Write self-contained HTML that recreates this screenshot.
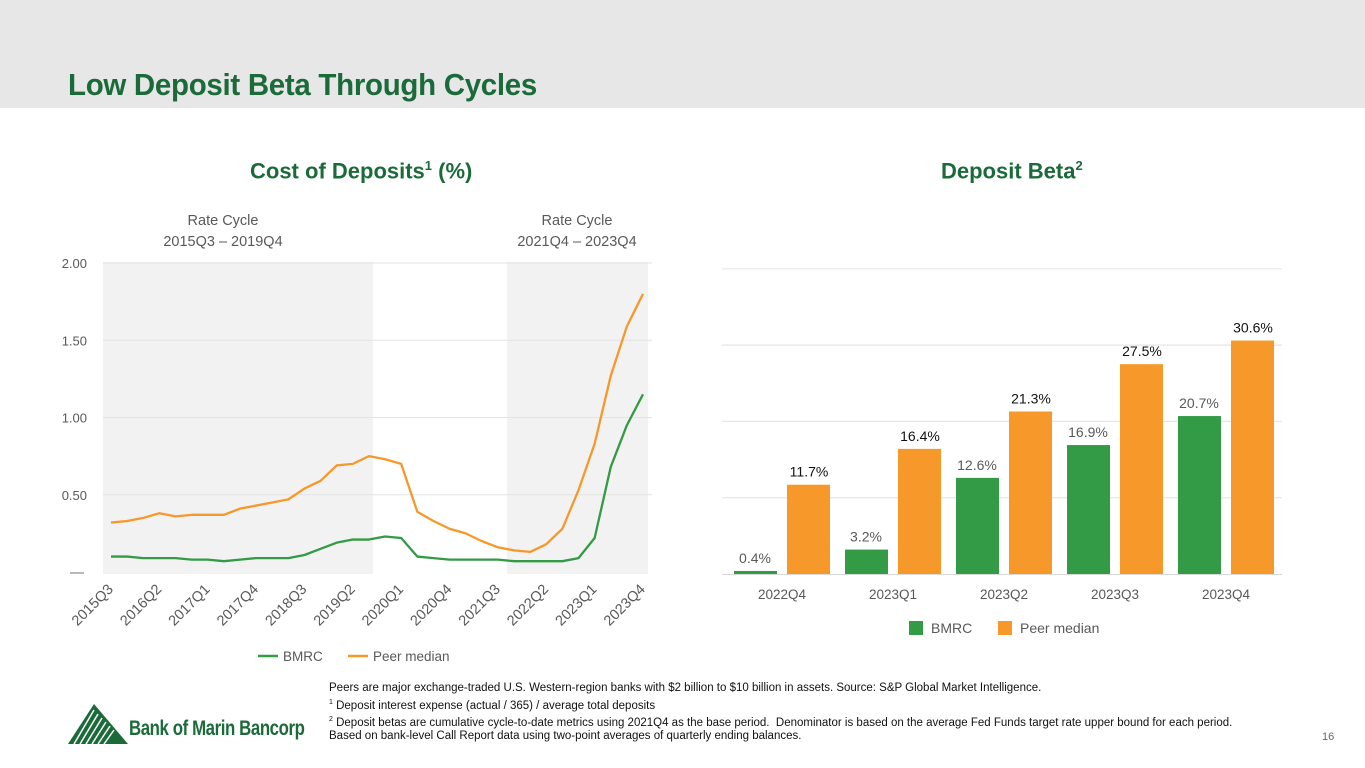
<!DOCTYPE html>
<html><head><meta charset="utf-8"><style>
body{margin:0;width:1365px;height:768px;overflow:hidden;background:#fff;font-family:"Liberation Sans",sans-serif;position:relative}
.abs{position:absolute}
</style></head><body>
<div class="abs" style="left:0;top:0;width:1365px;height:108px;background:#e7e7e7"></div>
<div class="abs" style="left:68px;top:67px;font-size:31px;font-weight:bold;color:#1b6b3a;letter-spacing:-0.3px;transform:scaleX(0.95);transform-origin:left;white-space:nowrap">Low Deposit Beta Through Cycles</div>
<div class="abs" style="left:250px;top:158px;font-size:22px;font-weight:bold;color:#1b6b3a">Cost of Deposits<sup style="font-size:13px">1</sup> (%)</div>
<div class="abs" style="left:941px;top:158px;font-size:22px;font-weight:bold;color:#1b6b3a">Deposit Beta<sup style="font-size:13px">2</sup></div>

<svg class="abs" style="left:0;top:0" width="1365" height="768">
<g id="left"></g>
<g id="right"></g>
</svg>

<div class="abs" style="left:329px;top:682px;font-size:11.5px;line-height:13.5px;color:#111;white-space:nowrap">Peers are major exchange-traded U.S. Western-region banks with $2 billion to $10 billion in assets. Source: S&amp;P Global Market Intelligence.<br><sup style="font-size:7px">1</sup> Deposit interest expense (actual / 365) / average total deposits<br><sup style="font-size:7px">2</sup> Deposit betas are cumulative cycle-to-date metrics using 2021Q4 as the base period.&nbsp; Denominator is based on the average Fed Funds target rate upper bound for each period.<br>Based on bank-level Call Report data using two-point averages of quarterly ending balances.</div>
<div class="abs" style="left:1322px;top:731px;font-size:11px;color:#666">16</div>
<svg class="abs" style="left:68px;top:704px" width="60" height="40">
<polygon points="0,40 26,0 60,40" fill="#1b6b3a"/>
<g stroke="#fff" stroke-width="1.5"><line x1="6" y1="40" x2="26" y2="6"/><line x1="12" y1="40" x2="30" y2="10"/><line x1="18" y1="40" x2="34" y2="14"/><line x1="24" y1="40" x2="38" y2="18"/><line x1="30" y1="40" x2="42" y2="22"/><line x1="36" y1="40" x2="46" y2="26"/></g>
</svg>
<div class="abs" style="left:129px;top:717px;font-size:21px;font-weight:bold;color:#1b6b3a;transform:scaleX(0.8);transform-origin:left;letter-spacing:-0.5px;white-space:nowrap">Bank of Marin Bancorp</div>

<script>
const quarters=["2015Q3","2015Q4","2016Q1","2016Q2","2016Q3","2016Q4","2017Q1","2017Q2","2017Q3","2017Q4","2018Q1","2018Q2","2018Q3","2018Q4","2019Q1","2019Q2","2019Q3","2019Q4","2020Q1","2020Q2","2020Q3","2020Q4","2021Q1","2021Q2","2021Q3","2021Q4","2022Q1","2022Q2","2022Q3","2022Q4","2023Q1","2023Q2","2023Q3","2023Q4"];
const bmrc=[0.10,0.10,0.09,0.09,0.09,0.08,0.08,0.07,0.08,0.09,0.09,0.09,0.11,0.15,0.19,0.21,0.21,0.23,0.22,0.10,0.09,0.08,0.08,0.08,0.08,0.07,0.07,0.07,0.07,0.09,0.22,0.68,0.95,1.15];
const peer=[0.32,0.33,0.35,0.38,0.36,0.37,0.37,0.37,0.41,0.43,0.45,0.47,0.54,0.59,0.69,0.70,0.75,0.73,0.70,0.39,0.33,0.28,0.25,0.20,0.16,0.14,0.13,0.18,0.28,0.53,0.83,1.27,1.59,1.80];
const yTicks=[0.5,1.0,1.5,2.0];
const yTickLabels=["0.50","1.00","1.50","2.00"];
const betaCats=["2022Q4","2023Q1","2023Q2","2023Q3","2023Q4"];
const betaBmrc=[0.4,3.2,12.6,16.9,20.7];
const betaPeer=[11.7,16.4,21.3,27.5,30.6];
const betaGrid=[10,20,30,40];

const NS="http://www.w3.org/2000/svg";
function mk(p,t,a,txt){const e=document.createElementNS(NS,t);for(const k in a)e.setAttribute(k,a[k]);if(txt!==undefined)e.textContent=txt;p.appendChild(e);return e;}
const G="#339a46",O="#f7982a";
const L=document.getElementById('left');
const lx=i=>111+i*(643-111)/(quarters.length-1);
const ly=v=>572-v*154.5;
let r=mk(L,'rect',{x:103,y:262,width:270,height:312,fill:'#f2f2f2'});

r=mk(L,'rect',{x:507,y:262,width:141,height:312,fill:'#f2f2f2'});

yTicks.forEach((v,i)=>{
 let l=mk(L,'line',{x1:103,x2:652,y1:ly(v),y2:ly(v),stroke:'#e3e3e3','stroke-width':1});
 
 let t=mk(L,'text',{x:87,y:ly(v)+5,'text-anchor':'end','font-size':13,fill:'#595959'},yTickLabels[i]);
 
});
let z=mk(L,'line',{x1:70,x2:84,y1:573,y2:573,stroke:'#888','stroke-width':1.2});

quarters.forEach((q,i)=>{if(i%3)return;
 const x=lx(i)+3,y=590;
 let t=mk(L,'text',{x:x,y:y,'text-anchor':'end','font-size':14.5,fill:'#595959',transform:`rotate(-45 ${x} ${y})`},q);
 
});
[[peer,O,'peer-median-line'],[bmrc,G,'bmrc-line']].forEach(([d,c,n])=>{
 let p=mk(L,'polyline',{points:d.map((v,i)=>lx(i)+','+ly(v)).join(' '),fill:'none',stroke:c,'stroke-width':2.3,'stroke-linejoin':'round'});
 
});
[[223,'Rate Cycle',220],[223,'2015Q3 – 2019Q4',241],[577,'Rate Cycle',220],[577,'2021Q4 – 2023Q4',241]].forEach(([x,s,y])=>{
 let t=mk(L,'text',{x:x,y:y+5,'text-anchor':'middle','font-size':14.5,fill:'#595959'},s);
 
});
let lg=mk(L,'line',{x1:258,x2:278,y1:656,y2:656,stroke:G,'stroke-width':2.5});
let lt=mk(L,'text',{x:283,y:661,'font-size':13.5,fill:'#595959'},'BMRC');
lg=mk(L,'line',{x1:348,x2:368,y1:656,y2:656,stroke:O,'stroke-width':2.5});
lt=mk(L,'text',{x:373,y:661,'font-size':13.5,fill:'#595959'},'Peer median');
const R=document.getElementById('right');
const bx=i=>782+i*111;
const by=v=>574-v*7.63;
betaGrid.forEach(v=>{
 let l=mk(R,'line',{x1:722,x2:1282,y1:by(v),y2:by(v),stroke:'#e6e6e6','stroke-width':1.2});
 
});
betaCats.forEach((c,i)=>{
 const x=bx(i);
 let b=mk(R,'rect',{x:x-48,y:by(betaBmrc[i]),width:43,height:574-by(betaBmrc[i]),fill:G});
 
 b=mk(R,'rect',{x:x+5,y:by(betaPeer[i]),width:43,height:574-by(betaPeer[i]),fill:O});
 
 let t=mk(R,'text',{x:x-27,y:by(betaBmrc[i])-8,'text-anchor':'middle','font-size':14,fill:'#595959'},betaBmrc[i].toFixed(1)+'%');
 
 t=mk(R,'text',{x:x+27,y:by(betaPeer[i])-8,'text-anchor':'middle','font-size':14,fill:'#111'},betaPeer[i].toFixed(1)+'%');
 
 t=mk(R,'text',{x:x,y:599,'text-anchor':'middle','font-size':13.5,fill:'#595959'},c);
 
});
let bl=mk(R,'line',{x1:722,x2:1282,y1:574.5,y2:574.5,stroke:'#d9d9d9','stroke-width':1});

let rs=mk(R,'rect',{x:909,y:621,width:14,height:14,fill:G});
let rt=mk(R,'text',{x:931,y:633,'font-size':14,fill:'#595959'},'BMRC');
rs=mk(R,'rect',{x:998,y:621,width:14,height:14,fill:O});
rt=mk(R,'text',{x:1020,y:633,'font-size':14,fill:'#595959'},'Peer median');
</script>
</body></html>
